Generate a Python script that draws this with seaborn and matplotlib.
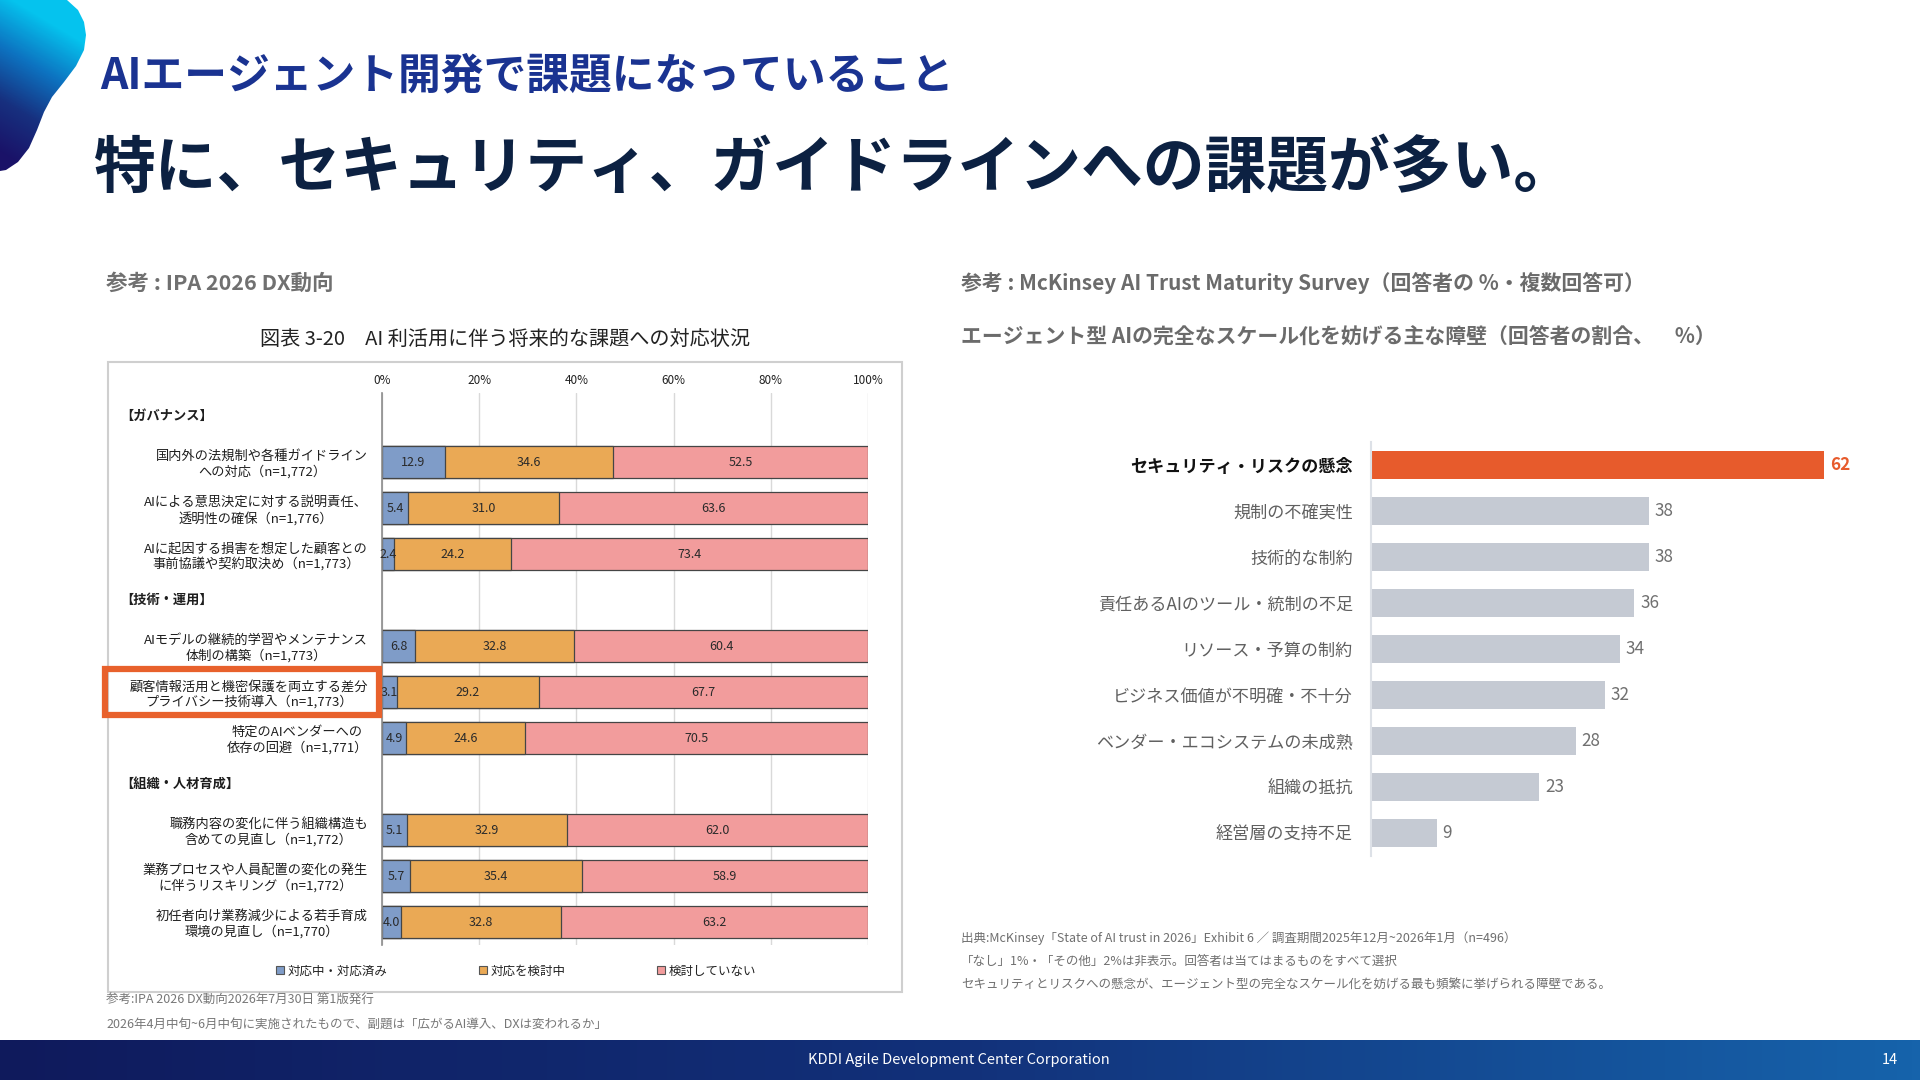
import numpy as np
import pandas as pd
import matplotlib
matplotlib.use('Agg')
import matplotlib.pyplot as plt
import matplotlib.transforms as mtransforms
from matplotlib.patches import Rectangle, Patch, PathPatch
from matplotlib.path import Path
from matplotlib.colors import LinearSegmentedColormap
import seaborn as sns

# ---- data: left chart (IPA) ----
left_groups = ['【ガバナンス】', '【技術・運用】', '【組織・人材育成】']
left_items = [
    '国内外の法規制や各種ガイドライン\nへの対応（n=1,772）',
    'AIによる意思決定に対する説明責任、\n透明性の確保（n=1,776）',
    'AIに起因する損害を想定した顧客との\n事前協議や契約取決め（n=1,773）',
    'AIモデルの継続的学習やメンテナンス\n体制の構築（n=1,773）',
    '顧客情報活用と機密保護を両立する差分\nプライバシー技術導入（n=1,773）',
    '特定のAIベンダーへの\n依存の回避（n=1,771）',
    '職務内容の変化に伴う組織構造も\n含めての見直し（n=1,772）',
    '業務プロセスや人員配置の変化の発生\nに伴うリスキリング（n=1,772）',
    '初任者向け業務減少による若手育成\n環境の見直し（n=1,770）',
]
left_item_group = [0, 0, 0, 1, 1, 1, 2, 2, 2]
done = [12.9, 5.4, 2.4, 6.8, 3.1, 4.9, 5.1, 5.7, 4.0]
considering = [34.6, 31.0, 24.2, 32.8, 29.2, 24.6, 32.9, 35.4, 32.8]
not_considered = [52.5, 63.6, 73.4, 60.4, 67.7, 70.5, 62.0, 58.9, 63.2]
series_names = ['対応中・対応済み', '対応を検討中', '検討していない']
series_colors = ['#7f9cc8', '#eaa955', '#f29c9c']
left_ticks = [0, 20, 40, 60, 80, 100]
highlight_item = 4

# ---- data: right chart (McKinsey) ----
barriers = ['セキュリティ・リスクの懸念', '規制の不確実性', '技術的な制約',
            '責任あるAIのツール・統制の不足', 'リソース・予算の制約',
            'ビジネス価値が不明確・不十分', 'ベンダー・エコシステムの未成熟',
            '組織の抵抗', '経営層の支持不足']
barrier_pct = [62, 38, 38, 36, 34, 32, 28, 23, 9]

W, H = 1920, 1080
def fx(x):
    return x / W
def fy(y):
    return 1 - y / H

sns.set_theme(style='white')
plt.rcParams['font.family'] = ['Noto Sans CJK JP', 'DejaVu Sans']
plt.rcParams['axes.unicode_minus'] = False

fig = plt.figure(figsize=(19.2, 10.8), dpi=100)
fig.patch.set_facecolor('white')

# ---- decorative blob top-left ----
axb = fig.add_axes([0, fy(200), fx(120), 200 / H])
axb.set_xlim(0, 120)
axb.set_ylim(200, 0)
axb.axis('off')
yy, xx = np.mgrid[0:200, 0:120]
t = np.clip(yy / 200 * 1.25 - xx / 120 * 0.45 + 0.05, 0, 1)
blob_cmap = LinearSegmentedColormap.from_list('blob', ['#05c3ee', '#0d72c0', '#17307f', '#1a1268'])
im = axb.imshow(t, cmap=blob_cmap, extent=(0, 120, 200, 0), aspect='auto', vmin=0, vmax=1)
blob_pts = [(0, 0), (67, 0), (78, 10), (84, 22), (86, 35), (84, 50), (76, 66), (64, 82),
            (52, 97), (44, 112), (37, 130), (29, 148), (18, 162), (6, 170), (0, 171), (0, 0)]
blob_patch = PathPatch(Path(blob_pts), transform=axb.transData, facecolor='none', edgecolor='none')
axb.add_patch(blob_patch)
im.set_clip_path(blob_patch)

# ---- titles ----
fig.text(fx(100), fy(77), 'AIエージェント開発で課題になっていること', fontsize=30.8,
         fontweight='bold', color='#1a3391', va='center', ha='left')
fig.text(fx(94), fy(168), '特に、セキュリティ、ガイドラインへの課題が多い。', fontsize=44.5,
         fontweight='bold', color='#0c2142', va='center', ha='left')

fig.text(fx(106), fy(283), '参考 : IPA 2026 DX動向', fontsize=15.5, fontweight='bold',
         color='#707070', va='center', ha='left')
fig.text(fx(961), fy(283), '参考 : McKinsey AI Trust Maturity Survey（回答者の %・複数回答可）',
         fontsize=15, fontweight='bold', color='#6b6b6b', va='center', ha='left')
fig.text(fx(961), fy(337), 'エージェント型 AIの完全なスケール化を妨げる主な障壁（回答者の割合、　%）',
         fontsize=15, fontweight='bold', color='#6b6b6b', va='center', ha='left')

# ---- left chart ----
fig.add_artist(Rectangle((fx(108), fy(992)), (902 - 108) / W, (992 - 362) / H,
                         transform=fig.transFigure, fill=False, edgecolor='#cfcfcf', lw=1.5))
fig.text(fx(505), fy(339), '図表 3-20　AI 利活用に伴う将来的な課題への対応状況', fontsize=14.5,
         color='#222222', va='center', ha='center')

order = []
for gi, g in enumerate(left_groups):
    order.append(g)
    order += [it for it, ig in zip(left_items, left_item_group) if ig == gi]

df = pd.DataFrame({'item': left_items, 'done': done, 'considering': considering,
                   'not_considered': not_considered})
df['c1'] = df['done']
df['c2'] = df['c1'] + df['considering']
df['c3'] = df['c2'] + df['not_considered']

axl = fig.add_axes([fx(382), fy(945), (868 - 382) / W, (945 - 393) / H])
axl.set_facecolor('none')
for col, c in zip(['c3', 'c2', 'c1'], series_colors[::-1]):
    sns.barplot(data=df, x=col, y='item', order=order, orient='h', color=c, saturation=1,
                edgecolor='#454545', linewidth=0.9, width=0.7, ax=axl, zorder=3)
axl.set_xlim(0, 100)
axl.set_ylim(len(order) - 0.5, -0.5)
axl.set_xlabel('')
axl.set_ylabel('')
axl.xaxis.tick_top()
axl.set_xticks(left_ticks)
axl.set_xticklabels([f'{v}%' for v in left_ticks])
axl.tick_params(axis='x', length=0, pad=4, labelsize=8.5, labelcolor='#222222')
axl.tick_params(axis='y', length=0, pad=10, labelsize=9.5, labelcolor='#1e1e1e')
axl.grid(axis='x', color='#d9d9d9', lw=1, zorder=0)
axl.grid(axis='y', visible=False)
for s in ['top', 'right', 'bottom']:
    axl.spines[s].set_visible(False)
axl.spines['left'].set_color('#8c8c8c')
axl.spines['left'].set_linewidth(1.2)
axl.spines['left'].set_zorder(4)

tick_texts = [l.get_text() for l in axl.get_yticklabels()]
tick_texts = ['' if tt in left_groups else tt for tt in tick_texts]
axl.set_yticklabels(tick_texts, multialignment='center')

hdr_tr = mtransforms.blended_transform_factory(fig.transFigure, axl.transData)
for g in left_groups:
    axl.text(fx(120), order.index(g), g, transform=hdr_tr, ha='left', va='center',
             fontsize=9.5, fontweight='bold', color='#1e1e1e')

for i, it in enumerate(left_items):
    yi = order.index(it)
    start = 0
    for v in [done[i], considering[i], not_considered[i]]:
        axl.text(start + v / 2, yi, f'{v:.1f}', ha='center', va='center',
                 fontsize=9, color='#2a2a2a', zorder=5)
        start += v

hy = order.index(left_items[highlight_item])
fig.add_artist(Rectangle((fx(105), hy - 0.49), (379 - 105) / W, 0.98, transform=hdr_tr,
                         fill=False, edgecolor='#e8612c', lw=4.5, clip_on=False, zorder=6))

handles = [Patch(facecolor=c, edgecolor='#555555', lw=0.8, label=n)
           for n, c in zip(series_names, series_colors)]
fig.legend(handles=handles, loc='center', bbox_to_anchor=(fx(516), fy(971)), ncol=3,
           frameon=False, fontsize=9, handlelength=0.65, handleheight=0.65,
           handletextpad=0.3, columnspacing=7.3, labelcolor='#222222')

fig.text(fx(106), fy(1000), '参考:IPA 2026 DX動向2026年7月30日 第1版発行', fontsize=9,
         color='#777777', va='center', ha='left')
fig.text(fx(106), fy(1024), '2026年4月中旬~6月中旬に実施されたもので、副題は「広がるAI導入、DXは変われるか」',
         fontsize=9, color='#777777', va='center', ha='left')

# ---- right chart ----
axr = fig.add_axes([fx(1371), fy(856), (1883 - 1371) / W, (856 - 442) / H])
axr.set_facecolor('none')
bar_colors = ['#e75b2c'] + ['#c5cad3'] * (len(barriers) - 1)
sns.barplot(x=barrier_pct, y=barriers, hue=barriers, palette=bar_colors, legend=False,
            orient='h', width=0.63, linewidth=0, saturation=1, ax=axr)
axr.set_xlim(0, 70)
axr.set_ylim(len(barriers) - 0.5, -0.5)
axr.set_xticks([])
axr.set_xlabel('')
axr.set_ylabel('')
axr.tick_params(axis='y', length=0, pad=13, labelsize=12.3, labelcolor='#606060')
for s in ['top', 'right', 'bottom']:
    axr.spines[s].set_visible(False)
axr.spines['left'].set_color('#dde1e7')
axr.spines['left'].set_linewidth(1.5)
first = axr.get_yticklabels()[0]
first.set_fontweight('bold')
first.set_color('#111111')

for i, v in enumerate(barrier_pct):
    if i == 0:
        axr.text(v + 0.8, i, str(v), va='center', ha='left', fontsize=12.3,
                 fontweight='bold', color='#e75b2c')
    else:
        axr.text(v + 0.8, i, str(v), va='center', ha='left', fontsize=12.3, color='#707070')

notes = [
    '出典:McKinsey「State of AI trust in 2026」Exhibit 6 ／ 調査期間2025年12月~2026年1月（n=496）',
    '「なし」1%・「その他」2%は非表示。回答者は当てはまるものをすべて選択',
    'セキュリティとリスクへの懸念が、エージェント型の完全なスケール化を妨げる最も頻繁に挙げられる障壁である。',
]
for k, nt in enumerate(notes):
    fig.text(fx(961), fy(938 + 23.5 * k), nt, fontsize=9, color='#6f6f6f', va='center', ha='left')

# ---- footer band ----
axf = fig.add_axes([0, 0, 1, 40 / H])
foot_cmap = LinearSegmentedColormap.from_list('foot', ['#0f1a5c', '#12317a', '#1663ab'])
axf.imshow(np.linspace(0, 1, 512)[None, :], cmap=foot_cmap, aspect='auto', extent=(0, 1, 0, 1))
axf.axis('off')
fig.text(0.4995, 20 / H, 'KDDI Agile Development Center Corporation', fontsize=10.5,
         color='white', va='center', ha='center')
fig.text(fx(1890), 20 / H, '14', fontsize=10.5, color='white', va='center', ha='center')

fig.savefig('out.png', dpi=100)
